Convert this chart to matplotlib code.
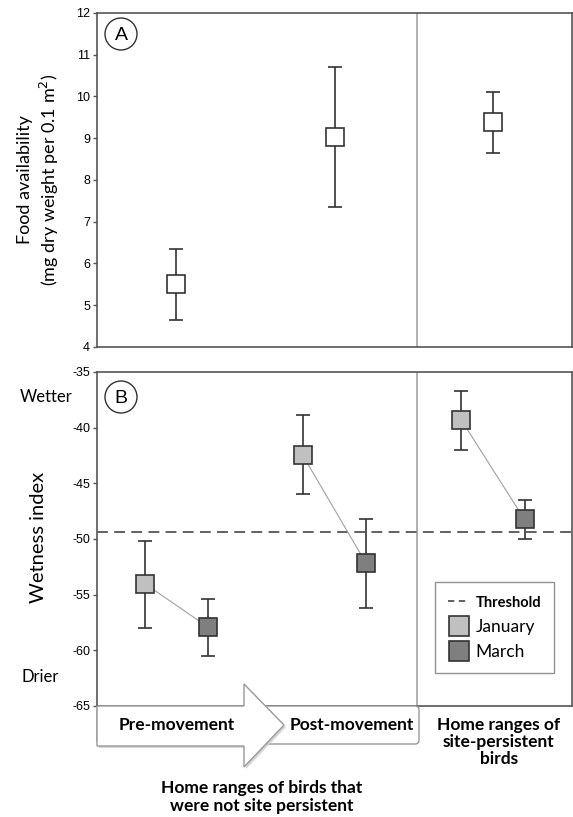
import matplotlib
matplotlib.use("Agg")
import matplotlib.pyplot as plt
from matplotlib.lines import Line2D
from matplotlib.patches import Polygon, FancyBboxPatch, Circle
import numpy as np

plt.rcParams['axes.unicode_minus'] = False
plt.rcParams['font.family'] = ['Liberation Sans', 'DejaVu Sans']

# ---- data ----
groups = [1, 2, 3]
food_mean = [5.5, 9.02, 9.38]
food_hi = [6.35, 10.7, 10.1]
food_lo = [4.65, 7.35, 8.65]

jan_mean = [-54.0, -42.5, -39.3]
jan_hi = [-50.2, -38.9, -36.7]
jan_lo = [-58.0, -46.0, -42.0]
mar_mean = [-57.9, -52.2, -48.25]
mar_hi = [-55.4, -48.2, -46.5]
mar_lo = [-60.5, -56.2, -50.0]
threshold = -49.4

JAN_C = '#c0c0c0'
MAR_C = '#7f7f7f'
EDGE = '#333333'
SPINE = '#555555'
TXT = 'Lato'

fig = plt.figure(figsize=(5.73, 8.17), dpi=100)
axA = fig.add_axes([0.1693, 0.5753, 0.829, 0.4088])
axB = fig.add_axes([0.1693, 0.1359, 0.829, 0.4088])

for ax in (axA, axB):
    ax.set_xlim(0.5, 3.5)
    ax.set_xticks([])
    for s in ax.spines.values():
        s.set_color(SPINE)
        s.set_linewidth(1.2)
    ax.tick_params(axis='y', direction='out', length=3, width=1, color=SPINE,
                   labelsize=9, pad=2)
    ax.axvline(2.52, color='#aaaaaa', lw=1.3, zorder=1)

# panel A
axA.set_ylim(4, 12)
axA.set_yticks(range(4, 13))
fm = np.array(food_mean)
axA.errorbar(groups, fm, yerr=[fm - np.array(food_lo), np.array(food_hi) - fm],
             fmt='s', ms=13, mfc='white', mec=EDGE, mew=1.2, ecolor=EDGE,
             elinewidth=1.2, capsize=5, capthick=1.2, zorder=3)

# panel B
axB.set_ylim(-65, -35)
axB.set_yticks(range(-65, -34, 5))
xj = np.array(groups) - 0.2
xm = np.array(groups) + 0.2
axB.axhline(threshold, color=SPINE, lw=1.3, dashes=(6, 3.5), zorder=2)
for i in range(3):
    axB.plot([xj[i], xm[i]], [jan_mean[i], mar_mean[i]], color='#a0a0a0',
             lw=0.8, zorder=2)
jm = np.array(jan_mean)
mm = np.array(mar_mean)
axB.errorbar(xj, jm, yerr=[jm - np.array(jan_lo), np.array(jan_hi) - jm],
             fmt='s', ms=13, mfc=JAN_C, mec=EDGE, mew=1.2, ecolor=EDGE,
             elinewidth=1.2, capsize=5, capthick=1.2, zorder=3)
axB.errorbar(xm, mm, yerr=[mm - np.array(mar_lo), np.array(mar_hi) - mm],
             fmt='s', ms=13, mfc=MAR_C, mec=EDGE, mew=1.2, ecolor=EDGE,
             elinewidth=1.2, capsize=5, capthick=1.2, zorder=3)

handles = [Line2D([], [], color=SPINE, lw=1.3, dashes=(3.5, 2.5)),
           Line2D([], [], ls='none', marker='s', ms=14, mfc=JAN_C, mec=EDGE, mew=1.2),
           Line2D([], [], ls='none', marker='s', ms=14, mfc=MAR_C, mec=EDGE, mew=1.2)]
leg = axB.legend(handles, ['Threshold', 'January', 'March'], loc='upper right',
                 bbox_to_anchor=(0.962, 0.371), borderaxespad=0, fancybox=False,
                 edgecolor='#777777', prop={'family': TXT, 'size': 12.5},
                 handlelength=1.2, handletextpad=0.35, borderpad=0.75,
                 labelspacing=0.5)
leg.get_frame().set_linewidth(1.0)
leg.get_texts()[0].set_fontweight('bold')
leg.get_texts()[0].set_fontsize(10.5)

# overlay in pixel coordinates for annotations
ov = fig.add_axes([0, 0, 1, 1], zorder=5)
ov.set_xlim(0, 573)
ov.set_ylim(817, 0)
ov.axis('off')

ov.text(39, 180, 'Food availability\n(mg dry weight per 0.1 m$^2$)', family=TXT,
        fontsize=13, rotation=90, ha='center', va='center', linespacing=1.25)
ov.text(39, 537, 'Wetness index', family=TXT, fontsize=14.5, rotation=90,
        ha='center', va='center')

for cy, lab in [(34, 'A'), (397, 'B')]:
    ov.add_patch(Circle((121, cy), 16, fc='white', ec=EDGE, lw=1.0))
    ov.text(121, cy + 1, lab, ha='center', va='center', fontsize=14)

ov.text(46, 397, 'Wetter', family=TXT, fontsize=12, ha='center', va='center')
ov.text(40, 677, 'Drier', family=TXT, fontsize=12, ha='center', va='center')

# box and arrow below panel B
ov.add_patch(FancyBboxPatch((97, 706), 322, 38, boxstyle='round,pad=0,rounding_size=4',
                            fc='white', ec='#999999', lw=1.0))
arrow = [(97, 706), (244, 706), (244, 684), (284, 725), (244, 767),
         (244, 746), (97, 746)]
shadow = [(x + 2, y + 2) for x, y in arrow]
ov.add_patch(Polygon(shadow, closed=True, fc='#cccccc', ec='none', alpha=0.8))
ov.add_patch(Polygon(arrow, closed=True, fc='white', ec='#999999', lw=1.0))

ov.text(177, 725, 'Pre-movement', family=TXT, fontsize=12.5, weight='bold',
        ha='center', va='center')
ov.text(352, 725, 'Post-movement', family=TXT, fontsize=12.5, weight='bold',
        ha='center', va='center')
ov.text(499, 742, 'Home ranges of\nsite-persistent\nbirds', family=TXT, fontsize=12.5,
        weight='bold', ha='center', va='center', linespacing=1.1)
ov.text(262, 797, 'Home ranges of birds that\nwere not site persistent', family=TXT,
        fontsize=12.5, weight='bold', ha='center', va='center', linespacing=1.1)

fig.savefig('out.png', dpi=100)
